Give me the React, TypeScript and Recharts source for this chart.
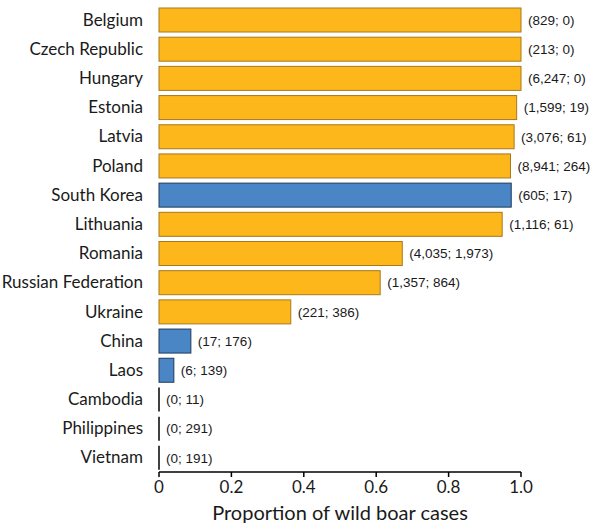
import { BarChart, Bar, XAxis, YAxis, Cell, LabelList } from 'recharts';

const countries = [
  'Belgium', 'Czech Republic', 'Hungary', 'Estonia', 'Latvia', 'Poland', 'South Korea',
  'Lithuania', 'Romania', 'Russian Federation', 'Ukraine', 'China', 'Laos', 'Cambodia',
  'Philippines', 'Vietnam',
];
const regions = [
  'Europe', 'Europe', 'Europe', 'Europe', 'Europe', 'Europe', 'Asia',
  'Europe', 'Europe', 'Europe', 'Europe', 'Asia', 'Asia', 'Asia', 'Asia', 'Asia',
];
const wildCases = [829, 213, 6247, 1599, 3076, 8941, 605, 1116, 4035, 1357, 221, 17, 6, 0, 0, 0];
const domesticCases = [0, 0, 0, 19, 61, 264, 17, 61, 1973, 864, 386, 176, 139, 11, 291, 191];
const proportions = [1.0, 1.0, 1.0, 0.988, 0.981, 0.971, 0.973, 0.948, 0.672, 0.611, 0.364, 0.088, 0.041, 0, 0, 0];
const xTicks = [0, 0.2, 0.4, 0.6, 0.8, 1.0];

const fills: Record<string, string> = { Europe: '#FDB71A', Asia: '#4A85C6' };
const strokes: Record<string, string> = { Europe: '#A9781A', Asia: '#1E3A5A' };

const data = countries.map((name, i) => ({
  name,
  region: regions[i],
  value: proportions[i],
  label: `(${wildCases[i].toLocaleString('en-US')}; ${domesticCases[i].toLocaleString('en-US')})`,
}));

// zero-width bars still show as a thin line, like the original
const BarShape = (props: any) => {
  const { x, y, width, height, payload } = props;
  if (width < 1) {
    return <line x1={x} x2={x} y1={y} y2={y + height} stroke="#000" strokeWidth={1.5} />;
  }
  return (
    <rect
      x={x}
      y={y}
      width={width}
      height={height}
      fill={fills[payload.region]}
      stroke={strokes[payload.region]}
      strokeWidth={1}
    />
  );
};

export default function App() {
  return (
    <div style={{ position: 'absolute', left: 0, top: 0, background: '#fff' }}>
      <BarChart
        width={600}
        height={526}
        data={data}
        layout="vertical"
        margin={{ top: 5, right: 79, bottom: 0, left: 0 }}
        barSize={24}
      >
        <XAxis
          type="number"
          domain={[0, 1]}
          ticks={xTicks}
          tickFormatter={(v) => (v === 0 ? '0' : v.toFixed(1))}
          height={54}
          axisLine={{ stroke: '#000', strokeWidth: 1.5 }}
          tickLine={{ stroke: '#000', strokeWidth: 1.5 }}
          tickSize={5}
          tickMargin={4}
          tick={{ fill: '#1a1a1a', fontSize: 17, fontFamily: 'Lato' }}
          label={{
            value: 'Proportion of wild boar cases',
            position: 'insideBottom',
            offset: 6,
            fill: '#1a1a1a',
            fontSize: 20,
            fontFamily: 'Lato',
          }}
        />
        <YAxis
          type="category"
          dataKey="name"
          width={159}
          axisLine={false}
          tickLine={false}
          tickMargin={10}
          tick={{ fill: '#1a1a1a', fontSize: 17, fontFamily: 'Lato' }}
          interval={0}
        />
        <Bar dataKey="value" shape={BarShape} isAnimationActive={false}>
          {data.map((d) => (
            <Cell key={d.name} fill={fills[d.region]} />
          ))}
          <LabelList
            dataKey="label"
            position="right"
            offset={7}
            fill="#1a1a1a"
            fontSize={13.5}
            fontFamily="Liberation Sans, Arial"
          />
        </Bar>
      </BarChart>
    </div>
  );
}
